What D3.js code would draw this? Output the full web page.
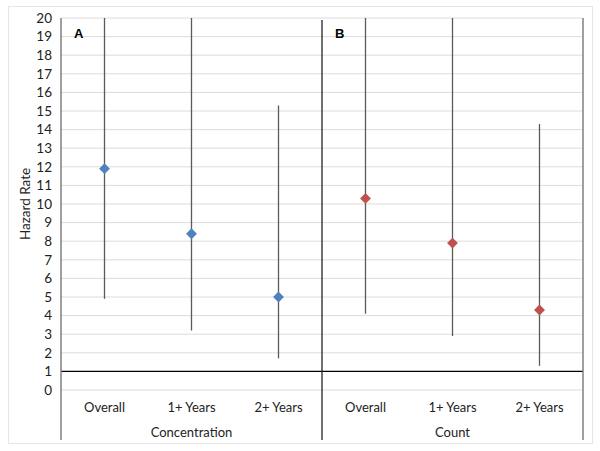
<!DOCTYPE html>
<html><head><meta charset="utf-8">
<script src="https://cdn.jsdelivr.net/npm/d3@7"></script>
<style>body{margin:0;background:#fff;} svg{display:block;}</style>
</head><body>
<svg id="c" width="600" height="451"></svg>
<script>
const categories = ["Overall", "1+ Years", "2+ Years", "Overall", "1+ Years", "2+ Years"];
const groups = ["Concentration", "Count"];
const groupOf = [0, 0, 0, 1, 1, 1];
const hazard = [11.9, 8.4, 5.0, 10.3, 7.9, 4.3];
const lower = [4.9, 3.2, 1.7, 4.1, 2.9, 1.3];
const upper = [20, 20, 15.3, 20, 20, 14.3];
const yTicks = d3.range(0, 21);
const panelLabels = ["A", "B"];
const colors = ["#4f81bd", "#c0504d"];

const svg = d3.select("#c");
const font = "Lato, 'Open Sans', sans-serif";
const L = 61, R = 583, T = 18, B = 390, AB = 440;

svg.append("rect").attr("x", 8.5).attr("y", 6.5).attr("width", 584).attr("height", 437)
  .attr("fill", "#fff").attr("stroke", "#e6e6e6");

const x = d3.scaleBand().domain(d3.range(categories.length)).range([L, R]);
const y = d3.scaleLinear().domain([0, 20]).range([B, T]);

// gridlines
svg.append("g").selectAll("line").data(yTicks).join("line")
  .attr("x1", L).attr("x2", R).attr("y1", d => y(d)).attr("y2", d => y(d))
  .attr("stroke", "#dcdcdc").attr("stroke-width", 1);

// y axis labels
const yAxis = d3.axisLeft(y).tickValues(yTicks).tickSize(0).tickPadding(9);
const ya = svg.append("g").attr("transform", `translate(${L},0)`).call(yAxis);
ya.select(".domain").remove();
ya.selectAll("text").attr("font-family", font).attr("font-size", 13.5).attr("fill", "#222");

svg.append("text").attr("transform", `translate(30,${(T + B) / 2}) rotate(-90)`)
  .attr("text-anchor", "middle").attr("font-family", font).attr("font-size", 13.5).attr("fill", "#222")
  .text("Hazard Rate");

// reference line at 1
svg.append("line").attr("x1", L).attr("x2", R).attr("y1", y(1)).attr("y2", y(1))
  .attr("stroke", "#000").attr("stroke-width", 1.2);

// vertical frame lines
svg.append("line").attr("x1", L).attr("x2", L).attr("y1", T).attr("y2", AB).attr("stroke", "#7f7f7f").attr("stroke-width", 1.5);
svg.append("line").attr("x1", R).attr("x2", R).attr("y1", T).attr("y2", AB).attr("stroke", "#7f7f7f").attr("stroke-width", 1.5);
const sepX = x(3);
svg.append("line").attr("x1", sepX).attr("x2", sepX).attr("y1", T + 2).attr("y2", AB).attr("stroke", "#222").attr("stroke-width", 1.3);

// error bars
const idx = d3.range(categories.length);
svg.append("g").selectAll("line").data(idx).join("line")
  .attr("x1", i => x(i) + x.bandwidth() / 2).attr("x2", i => x(i) + x.bandwidth() / 2)
  .attr("y1", i => y(upper[i])).attr("y2", i => y(lower[i]))
  .attr("stroke", "#5a5a5a").attr("stroke-width", 1.3);

// diamonds
const sym = d3.symbol().type(d3.symbolDiamond2).size(75);
svg.append("g").selectAll("path").data(idx).join("path")
  .attr("transform", i => `translate(${x(i) + x.bandwidth() / 2},${y(hazard[i])})`)
  .attr("d", sym).attr("fill", i => colors[groupOf[i]]);

// category labels
svg.append("g").selectAll("text").data(idx).join("text")
  .attr("x", i => x(i) + x.bandwidth() / 2).attr("y", 412)
  .attr("text-anchor", "middle").attr("font-family", font).attr("font-size", 13).attr("fill", "#222")
  .text(i => categories[i]);

// group labels
svg.append("g").selectAll("text").data(groups).join("text")
  .attr("x", (d, g) => (x(g * 3) + x(g * 3 + 2) + x.bandwidth()) / 2).attr("y", 437)
  .attr("text-anchor", "middle").attr("font-family", font).attr("font-size", 13).attr("fill", "#222")
  .text(d => d);

// panel labels
svg.append("g").selectAll("text").data(panelLabels).join("text")
  .attr("x", (d, g) => x(g * 3) + 13).attr("y", 38)
  .attr("font-family", "'Liberation Sans', Arial, sans-serif").attr("font-weight", "bold")
  .attr("font-size", 13).attr("fill", "#000").text(d => d);
</script>
</body></html>
